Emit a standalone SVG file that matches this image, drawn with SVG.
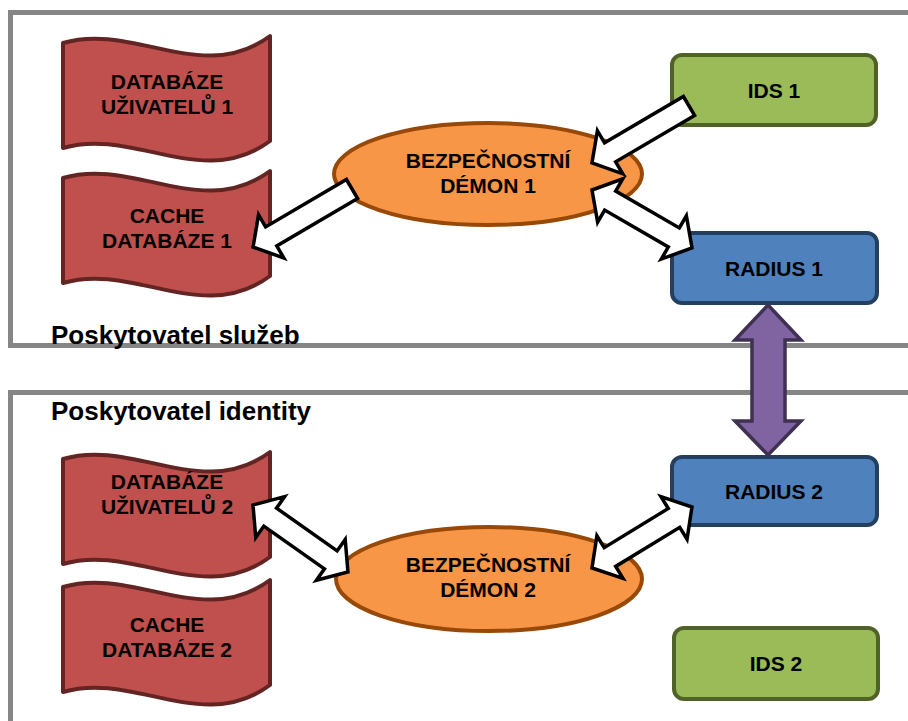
<svg xmlns="http://www.w3.org/2000/svg" xmlns:xlink="http://www.w3.org/1999/xlink" width="908" height="721" viewBox="0 0 908 721">
  <style>
    .frame { fill: none; stroke: #868686; stroke-width: 5; }
    .db { fill: #C0504D; stroke: #632523; stroke-width: 4; stroke-linejoin: round; }
    .daemon { fill: #F79646; stroke: #984807; stroke-width: 4; }
    .ids { fill: #9BBB59; stroke: #4F6228; stroke-width: 4; }
    .radius { fill: #4F81BD; stroke: #243F60; stroke-width: 4; }
    .flow { fill: #FFFFFF; stroke: #000000; stroke-width: 3.5; stroke-linejoin: miter; }
    .trust { fill: #8064A2; stroke: #3F3151; stroke-width: 3.5; stroke-linejoin: miter; }
    .lbl { font-family: "Liberation Sans", Arial, sans-serif; font-weight: bold; font-size: 21px; fill: #000000; text-anchor: middle; }
    .area { font-family: "Liberation Sans", Arial, sans-serif; font-weight: bold; font-size: 26px; fill: #000000; }
  </style>
  <defs>
    <!-- wavy banner used for the databases -->
    <path id="wave" d="M0,7 C70,-14 140,50 207,0 L207,105 C140,155 70,91 0,112 Z"/>
  </defs>

  <!-- domain frames -->
  <g id="frames">
    <path class="frame" d="M915,12.5 H10.5 V345.5 H915"/>
    <path class="frame" d="M915,392.5 H10.5 V730"/>
    <text class="area" x="51" y="344">Poskytovatel služeb</text>
    <text class="area" x="51" y="420">Poskytovatel identity</text>
  </g>

  <!-- service provider side -->
  <g id="db-users-1">
    <use xlink:href="#wave" class="db" transform="translate(63,36)"/>
    <text class="lbl" x="167" y="89">DATABÁZE</text>
    <text class="lbl" x="167" y="114">UŽIVATELŮ 1</text>
  </g>
  <g id="db-cache-1">
    <use xlink:href="#wave" class="db" transform="translate(63,171)"/>
    <text class="lbl" x="167" y="223">CACHE</text>
    <text class="lbl" x="167" y="248">DATABÁZE 1</text>
  </g>
  <g id="daemon-1">
    <ellipse class="daemon" cx="488" cy="174" rx="154" ry="51"/>
    <text class="lbl" x="488" y="168">BEZPEČNOSTNÍ</text>
    <text class="lbl" x="488" y="193">DÉMON 1</text>
  </g>
  <g id="ids-1">
    <rect class="ids" x="672" y="55" width="204" height="70" rx="10"/>
    <text class="lbl" x="774" y="98">IDS 1</text>
  </g>
  <g id="radius-1">
    <rect class="radius" x="672" y="233" width="205" height="70" rx="10"/>
    <text class="lbl" x="774" y="276">RADIUS 1</text>
  </g>

  <!-- identity provider side -->
  <g id="db-users-2">
    <use xlink:href="#wave" class="db" transform="translate(63,452)"/>
    <text class="lbl" x="167" y="489">DATABÁZE</text>
    <text class="lbl" x="167" y="514">UŽIVATELŮ 2</text>
  </g>
  <g id="db-cache-2">
    <use xlink:href="#wave" class="db" transform="translate(63,580)"/>
    <text class="lbl" x="167" y="632">CACHE</text>
    <text class="lbl" x="167" y="657">DATABÁZE 2</text>
  </g>
  <g id="daemon-2">
    <ellipse class="daemon" cx="489" cy="579" rx="153" ry="52"/>
    <text class="lbl" x="488" y="572">BEZPEČNOSTNÍ</text>
    <text class="lbl" x="488" y="597">DÉMON 2</text>
  </g>
  <g id="radius-2">
    <rect class="radius" x="672" y="457" width="205" height="68" rx="10"/>
    <text class="lbl" x="774" y="499">RADIUS 2</text>
  </g>
  <g id="ids-2">
    <rect class="ids" x="674" y="628" width="204" height="71" rx="10"/>
    <text class="lbl" x="776" y="671">IDS 2</text>
  </g>

  <!-- block arrows between components -->
  <g id="connectors">
    <path class="flow" transform="translate(689,106) rotate(149.6)" d="M0,-11 H91.5 V-25 L112.5,0 L91.5,25 V11 H0 Z"/>
    <path class="flow" transform="translate(352,189) rotate(149.6)" d="M0,-11 H93.7 V-25 L114.7,0 L93.7,25 V11 H0 Z"/>
    <path class="flow" transform="translate(592,190) rotate(30.1)" d="M0,0 L21,-25 V-11 H94.6 V-25 L115.6,0 L94.6,25 V11 H21 V25 Z"/>
    <path class="flow" transform="translate(253,505) rotate(35.2)" d="M0,0 L21,-25 V-11 H95.2 V-25 L116.2,0 L95.2,25 V11 H21 V25 Z"/>
    <path class="flow" transform="translate(592,568) rotate(-31.4)" d="M0,0 L21,-25 V-11 H96.1 V-25 L117.1,0 L96.1,25 V11 H21 V25 Z"/>
    <path class="trust" d="M768,305 L801,340 H785 V421 H801 L768,455 L735,421 H752 V340 H735 Z"/>
  </g>
</svg>
